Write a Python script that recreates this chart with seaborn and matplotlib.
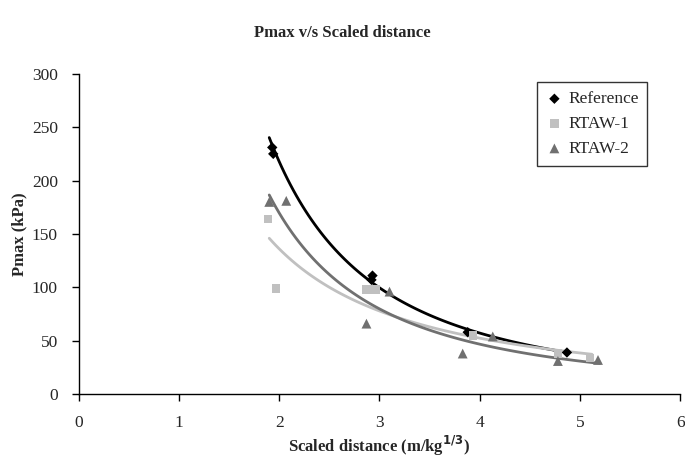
import numpy as np
import pandas as pd
import matplotlib
matplotlib.use("Agg")
import matplotlib.pyplot as plt
import seaborn as sns

ref_x = [1.93, 1.94, 2.92, 2.93, 3.88, 4.87]
ref_y = [231, 225, 107, 111, 58, 39]
rtaw1_x = [1.89, 1.97, 2.87, 2.96, 3.93, 4.78, 5.10]
rtaw1_y = [164, 99, 98, 98, 55, 38, 34]
rtaw2_x = [1.90, 2.07, 2.87, 3.10, 3.83, 4.13, 4.78, 5.18]
rtaw2_y = [180, 181, 66, 96, 38, 54, 31, 32]

series = ["Reference", "RTAW-1", "RTAW-2"]
colors = {"Reference": "black", "RTAW-1": "#c0c0c0", "RTAW-2": "#707070"}
markers = {"Reference": "D", "RTAW-1": "s", "RTAW-2": "^"}
sizes = {"Reference": 28, "RTAW-1": 36, "RTAW-2": 50}

df = pd.concat([
    pd.DataFrame({"x": ref_x, "y": ref_y, "s": "Reference"}),
    pd.DataFrame({"x": rtaw1_x, "y": rtaw1_y, "s": "RTAW-1"}),
    pd.DataFrame({"x": rtaw2_x, "y": rtaw2_y, "s": "RTAW-2"}),
])

sns.set_style("white")
plt.rcParams["font.family"] = ["Liberation Serif", "DejaVu Serif"]

fig = plt.figure(figsize=(6.85, 4.76), dpi=100)
ax = fig.add_axes([0.115, 0.172, 0.878, 0.673])

# power trend lines, as a spreadsheet would draw them
for name in series:
    d = df[df.s == name]
    b, lna = np.polyfit(np.log(d.x), np.log(d.y), 1)
    xs = np.linspace(1.9, d.x.max() + 0.02, 100)
    fit = pd.DataFrame({"x": xs, "y": np.exp(lna) * xs ** b})
    sns.lineplot(data=fit, x="x", y="y", color=colors[name], lw=2, ax=ax, legend=False)

for name in series:
    d = df[df.s == name]
    sns.scatterplot(data=d, x="x", y="y", color=colors[name], marker=markers[name],
                    s=sizes[name], edgecolor="none", ax=ax, label=name, zorder=3)

ax.set_xlim(0, 6)
ax.set_ylim(0, 300)
ax.set_xticks(range(0, 7))
ax.set_yticks(range(0, 301, 50))
for sp in ["top", "right"]:
    ax.spines[sp].set_visible(False)
for sp in ["left", "bottom"]:
    ax.spines[sp].set_color("black")
    ax.spines[sp].set_linewidth(1)
ax.tick_params(direction="out", length=5, width=1, color="black", labelsize=12.5,
               left=True, bottom=True, pad=10)

ax.set_xlabel("Scaled distance (m/kg$^{\\mathbf{1/3}}$)", fontsize=12, fontweight="bold", labelpad=2)
ax.set_ylabel("Pmax (kPa)", fontsize=12, fontweight="bold", labelpad=3)
fig.suptitle("Pmax v/s Scaled distance", fontsize=12, fontweight="bold", x=0.5, y=0.948)

leg = ax.legend(loc="upper right", bbox_to_anchor=(0.96, 1.0), fontsize=12.5, frameon=True,
                fancybox=False, edgecolor="black", handletextpad=0.3, borderpad=0.5,
                labelspacing=0.5, handlelength=1.0)
leg.get_frame().set_linewidth(1)

fig.savefig("out.png", dpi=100)
